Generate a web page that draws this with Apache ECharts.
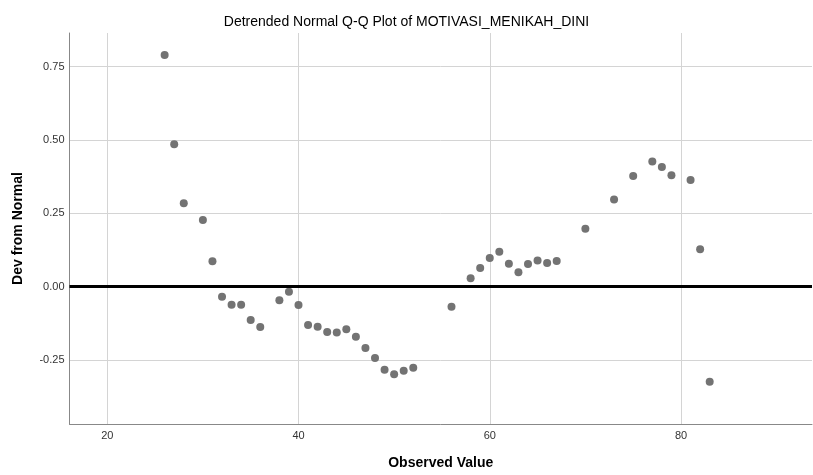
<!DOCTYPE html>
<html>
<head>
<meta charset="utf-8">
<script src="https://cdn.jsdelivr.net/npm/echarts@6/dist/echarts.min.js"></script>
<style>
html,body{margin:0;padding:0;background:#fff;}
#chart{width:813px;height:475px;}
</style>
</head>
<body>
<div id="chart"></div>
<script>
var observedValues = [26,27,28,30,31,32,33,34,35,36,38,39,40,41,42,43,44,45,46,47,48,49,50,51,52,56,58,59,60,61,62,63,64,65,66,67,70,73,75,77,78,79,81,82,83];
var devFromNormal = [0.789,0.485,0.284,0.227,0.087,-0.034,-0.061,-0.061,-0.113,-0.137,-0.046,-0.017,-0.062,-0.130,-0.136,-0.154,-0.156,-0.145,-0.170,-0.209,-0.243,-0.283,-0.298,-0.286,-0.276,-0.068,0.029,0.064,0.098,0.119,0.078,0.049,0.077,0.089,0.081,0.088,0.197,0.297,0.377,0.426,0.408,0.380,0.363,0.128,-0.324];
var xTicks = [20,40,60,80];
var yTicks = [-0.25,0,0.25,0.5,0.75];
var titleText = 'Detrended Normal Q-Q Plot of MOTIVASI_MENIKAH_DINI';
var xName = 'Observed Value';
var yName = 'Dev from Normal';

var points = observedValues.map(function(v,i){return [v, devFromNormal[i]];});
var font = '"Liberation Sans", Arial, sans-serif';

var chart = echarts.init(document.getElementById('chart'), null, {renderer:'canvas'});
chart.setOption({
  animation:false,
  backgroundColor:'#ffffff',
  title:{
    text:titleText, left:'center', top:10,
    textStyle:{fontFamily:font, fontSize:14, fontWeight:'normal', color:'#000'}
  },
  grid:{left:69.5, right:1, top:33, bottom:50.5, containLabel:false},
  xAxis:{
    type:'value', min:16.05, max:93.7,
    name:xName, nameLocation:'middle', nameGap:32,
    nameTextStyle:{fontFamily:font, fontSize:14, fontWeight:'bold', color:'#000'},
    axisLine:{show:true, onZero:false, lineStyle:{color:'#888888', width:1}},
    axisTick:{show:false, customValues:xTicks},
    axisLabel:{customValues:xTicks, margin:6, fontFamily:font, fontSize:11, color:'#333',
      formatter:function(v){return String(v);}},
    splitLine:{show:true, lineStyle:{color:'#d4d4d4', width:1}}
  },
  yAxis:{
    type:'value', min:-0.4675, max:0.864,
    name:yName, nameLocation:'middle', nameGap:44, nameRotate:90,
    nameTextStyle:{fontFamily:font, fontSize:14, fontWeight:'bold', color:'#000'},
    axisLine:{show:true, onZero:false, lineStyle:{color:'#888888', width:1}},
    axisTick:{show:false, customValues:yTicks},
    axisLabel:{customValues:yTicks, margin:5, fontFamily:font, fontSize:11, color:'#333',
      formatter:function(v){return v.toFixed(2);}},
    splitLine:{show:true, lineStyle:{color:'#d4d4d4', width:1}}
  },
  series:[{
    type:'scatter',
    data:points,
    symbol:'circle',
    symbolSize:8,
    itemStyle:{color:'#737373', opacity:1},
    markLine:{
      silent:true, symbol:['none','none'],
      label:{show:false},
      lineStyle:{color:'#000', width:3, type:'solid'},
      data:[{yAxis:0}]
    }
  }]
});
</script>
</body>
</html>
